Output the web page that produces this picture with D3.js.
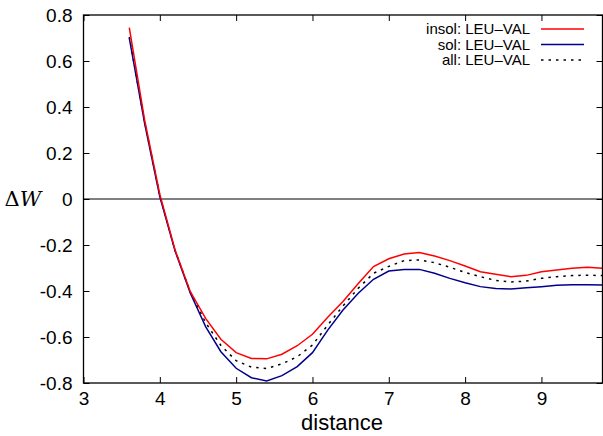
<!DOCTYPE html>
<html>
<head>
<meta charset="utf-8">
<script src="https://cdn.jsdelivr.net/npm/d3@7"></script>
<style>
  html, body { margin: 0; padding: 0; background: #fff; }
  svg { display: block; font-family: "Liberation Sans", Arial, sans-serif; }
</style>
</head>
<body>
<svg id="chart" width="603" height="436"></svg>
<script>
// Sampled distances (same grid for every series)
const distance = [3.6, 3.8, 4.0, 4.2, 4.4, 4.6, 4.8, 5.0, 5.2, 5.4, 5.6, 5.8, 6.0,
                  6.2, 6.4, 6.6, 6.8, 7.0, 7.2, 7.4, 7.6, 7.8, 8.0, 8.2, 8.4, 8.6,
                  8.8, 9.0, 9.2, 9.4, 9.6, 9.8];

// ΔW for the LEU–VAL pair
const insolValues = [0.745, 0.345, 0.02, -0.222, -0.403, -0.519, -0.61, -0.668, -0.693, -0.695,
                     -0.675, -0.638, -0.588, -0.514, -0.446, -0.367, -0.294, -0.26, -0.239, -0.233,
                     -0.248, -0.268, -0.291, -0.316, -0.327, -0.338, -0.332, -0.316, -0.309, -0.301,
                     -0.297, -0.301];
const solValues = [0.699, 0.33, 0.01, -0.226, -0.41, -0.555, -0.664, -0.736, -0.777, -0.791,
                   -0.768, -0.729, -0.668, -0.57, -0.483, -0.41, -0.349, -0.313, -0.306, -0.306,
                   -0.323, -0.345, -0.364, -0.381, -0.389, -0.391, -0.386, -0.381, -0.375, -0.373,
                   -0.373, -0.374];
const allValues = [0.705, 0.336, 0.015, -0.224, -0.406, -0.537, -0.637, -0.703, -0.731, -0.737,
                   -0.717, -0.686, -0.635, -0.548, -0.465, -0.388, -0.323, -0.293, -0.268, -0.265,
                   -0.277, -0.297, -0.319, -0.338, -0.354, -0.361, -0.357, -0.345, -0.338, -0.333,
                   -0.331, -0.333];

const xTicks = [3, 4, 5, 6, 7, 8, 9];
const yTicks = [-0.8, -0.6, -0.4, -0.2, 0, 0.2, 0.4, 0.6, 0.8];
const yTickLabels = ["-0.8", "-0.6", "-0.4", "-0.2", "0", "0.2", "0.4", "0.6", "0.8"];
const seriesNames = ["insol: LEU\u2013VAL", "sol: LEU\u2013VAL", "all: LEU\u2013VAL"];

const plotLeft = 83.5, plotRight = 602.5, plotTop = 15, plotBottom = 383;
const svg = d3.select("#chart");

const x = d3.scaleLinear().domain([3, 9.8]).range([plotLeft, plotRight]);
const y = d3.scaleLinear().domain([-0.8, 0.8]).range([plotBottom, plotTop]);

const tickLen = 6;
const fmtY = (v, i) => yTickLabels[i];

// Bottom axis with inward ticks
const gx = svg.append("g").attr("transform", `translate(0,${plotBottom})`)
  .call(d3.axisBottom(x).tickValues(xTicks).tickSizeInner(-tickLen).tickSizeOuter(0).tickPadding(9).tickFormat(d3.format("d")));
// Top mirror ticks
const gxt = svg.append("g").attr("transform", `translate(0,${plotTop})`)
  .call(d3.axisTop(x).tickValues(xTicks).tickSizeInner(-tickLen).tickSizeOuter(0).tickFormat(""));
// Left axis
const gy = svg.append("g").attr("transform", `translate(${plotLeft},0)`)
  .call(d3.axisLeft(y).tickValues(yTicks).tickSizeInner(-tickLen).tickSizeOuter(0).tickPadding(11).tickFormat(fmtY));
// Right mirror ticks
const gyr = svg.append("g").attr("transform", `translate(${plotRight},0)`)
  .call(d3.axisRight(y).tickValues(yTicks).tickSizeInner(-tickLen).tickSizeOuter(0).tickFormat(""));

[gx, gxt, gy, gyr].forEach(g => {
  g.select(".domain").remove();
  g.selectAll(".tick line").attr("stroke", "#000").attr("stroke-width", 1);
  g.selectAll(".tick text").attr("fill", "#000").attr("font-size", 19)
    .attr("font-family", "'Liberation Sans', Arial, sans-serif");
});

// Zero reference line
svg.append("line")
  .attr("x1", plotLeft).attr("x2", plotRight).attr("y1", y(0)).attr("y2", y(0))
  .attr("stroke", "#000").attr("stroke-width", 1);

// Clip region for the curves
svg.append("clipPath").attr("id", "plotArea")
  .append("rect").attr("x", plotLeft).attr("y", plotTop)
  .attr("width", plotRight - plotLeft).attr("height", plotBottom - plotTop);

const line = d3.line().x((d, i) => x(distance[i])).y(d => y(d));

const series = [
  { values: insolValues, color: "#ff0000", dash: null },
  { values: solValues, color: "#00008b", dash: null },
  { values: allValues, color: "#000000", dash: "2.5,5" }
];

const plot = svg.append("g").attr("clip-path", "url(#plotArea)");
series.slice().reverse().forEach(s => {
  plot.append("path")
    .datum(s.values)
    .attr("fill", "none")
    .attr("stroke", s.color)
    .attr("stroke-width", 1.5)
    .attr("stroke-dasharray", s.dash)
    .attr("d", line);
});

// Frame
svg.append("rect")
  .attr("x", plotLeft).attr("y", plotTop)
  .attr("width", plotRight - plotLeft).attr("height", plotBottom - plotTop)
  .attr("fill", "none").attr("stroke", "#000").attr("stroke-width", 1.3);

// Legend
const legend = svg.append("g");
series.forEach((s, i) => {
  const ly = 29 + i * 15.5;
  legend.append("text")
    .attr("x", 530).attr("y", ly).attr("dy", "0.35em")
    .attr("text-anchor", "end").attr("font-size", 15).attr("fill", "#000")
    .text(seriesNames[i]);
  legend.append("line")
    .attr("x1", 541).attr("x2", 584).attr("y1", ly).attr("y2", ly)
    .attr("stroke", s.color).attr("stroke-width", 1.5)
    .attr("stroke-dasharray", s.dash);
});

// Axis titles
svg.append("text")
  .attr("x", 342).attr("y", 430)
  .attr("text-anchor", "middle").attr("font-size", 22).attr("fill", "#000")
  .text("distance");

const yl = svg.append("text")
  .attr("x", 23).attr("y", y(0)).attr("dy", "0.35em")
  .attr("text-anchor", "middle").attr("font-size", 21).attr("fill", "#000")
  .attr("font-family", "'DejaVu Serif', 'Liberation Serif', serif");
yl.append("tspan").text("\u0394");
yl.append("tspan").attr("font-style", "italic").text("W");
</script>
</body>
</html>
